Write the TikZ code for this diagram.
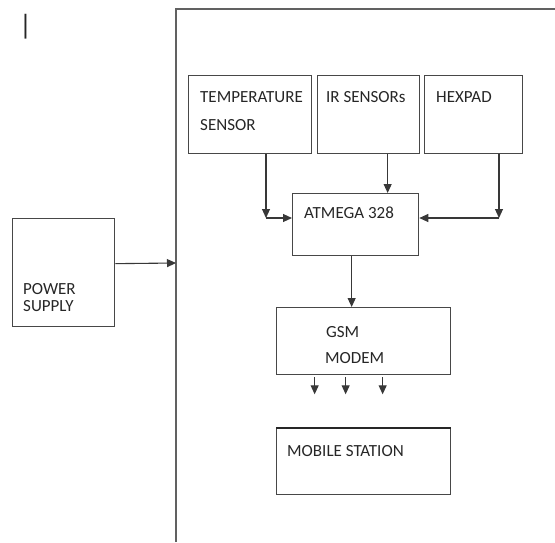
\documentclass[tikz,border=0pt]{standalone}
\usepackage{fontspec}
\setmainfont{Carlito}
\usetikzlibrary{arrows.meta}

\begin{document}
\begin{tikzpicture}[
        x=1pt, y=-1pt,
        block/.style={draw=black!72, line width=1.3pt, anchor=north west, inner sep=0pt},
        lbl/.style={anchor=base west, inner sep=0pt, text=black!85, font=\fontsize{17}{20}\selectfont},
        arrow/.style={draw=black!78, line width=1.1pt, -{Triangle[length=9pt,width=8pt]}},
        frame/.style={draw=black!62, line width=1.4pt}
    ]
    \useasboundingbox (0,0) rectangle (555,542);
    \node[inner sep=0pt, anchor=north west, text=black!85, font=\fontsize{28}{28}\selectfont] (mark) at (19,14) {|};
    \draw[frame] (176,542) -- (176,9) -- (555,9);
    \coordinate (sysin) at (176,263);
    \coordinate (tcorner) at (266,218);
    \coordinate (hcorner) at (499,218);
    \node[block, minimum width=123pt, minimum height=78pt] (temp) at (188,75) {};
    \node[block, minimum width=102pt, minimum height=78pt] (ir) at (317,75) {};
    \node[block, minimum width=98pt, minimum height=78pt] (hexpad) at (424,75) {};
    \node[block, minimum width=126pt, minimum height=62pt] (atmega) at (292,193) {};
    \node[block, minimum width=174pt, minimum height=67pt] (gsm) at (276,307) {};
    \node[block, minimum width=174pt, minimum height=66pt] (mobile) at (276,428) {};
    \node[block, minimum width=102pt, minimum height=108pt] (power) at (12,218) {};
    \draw[draw=black!85, line width=2.2pt] (mobile.north west) -- (mobile.north east);
    \node[lbl] (tempa) at (200,102) {TEMPERATURE};
    \node[lbl] (tempb) at (200,130) {SENSOR};
    \node[lbl] (irtxt) at (326,102) {IR SENSORs};
    \node[lbl] (hextxt) at (436,102) {HEXPAD};
    \node[lbl] (atmtxt) at (304,218) {ATMEGA 328};
    \node[lbl] (gsma) at (326,337) {GSM};
    \node[lbl] (gsmb) at (325,363) {MODEM};
    \node[lbl] (mobtxt) at (287,456) {MOBILE STATION};
    \node[lbl] (powa) at (23,294) {POWER};
    \node[lbl] (powb) at (23,311) {SUPPLY};
    \draw[arrow] (temp.south -| tcorner) -- (tcorner);
    \draw[arrow] (tcorner) -- (tcorner -| atmega.west);
    \draw[arrow] (hexpad.south -| hcorner) -- (hcorner);
    \draw[arrow] (hcorner) -- (hcorner -| atmega.east);
    \draw[arrow] ([xshift=19pt]ir.south) -- ([xshift=19pt]ir.south |- atmega.north);
    \draw[arrow] ([xshift=-4pt]atmega.south) -- ([xshift=-4pt]atmega.south |- gsm.north);
    \foreach \dx in {-49,-18,19}
        \draw[arrow] ([xshift=\dx pt, yshift=-2pt]gsm.south) -- ++(0,17);
    \draw[arrow] ([yshift=9pt]power.east) -- (sysin);
\end{tikzpicture}
\end{document}
